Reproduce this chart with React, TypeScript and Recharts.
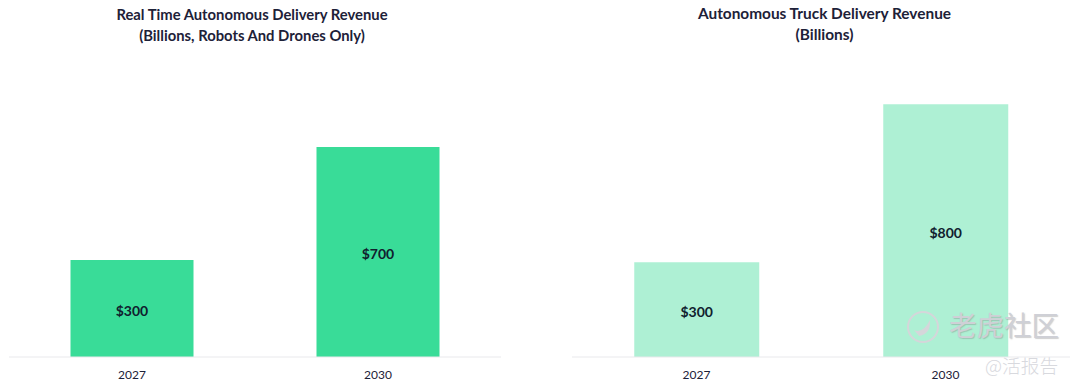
import React from "react";
import { BarChart, Bar, XAxis, YAxis, LabelList } from "recharts";

const categories = ["2027", "2030"];
const roboticsRevenue = [300, 700];
const truckRevenue = [300, 800];
const roboticsFloor = -43;
const roboticsTop = 1008;
const truckTop = 940;

const roboticsRows = categories.map((year, i) => ({
  year,
  value: roboticsRevenue[i],
  range: [roboticsFloor, roboticsRevenue[i]],
}));
const truckRows = categories.map((year, i) => ({
  year,
  value: truckRevenue[i],
  range: [0, truckRevenue[i]],
}));

const FONT = "Lato, 'Open Sans', sans-serif";
const INK = "#1d2138";

function Title({ cx, top, size, lines }: { cx: number; top: number; size: number; lines: string[] }) {
  return (
    <div
      style={{
        position: "absolute",
        left: cx - 200,
        top,
        width: 400,
        textAlign: "center",
        fontFamily: FONT,
        fontWeight: 700,
        fontSize: size,
        lineHeight: "21px",
        color: INK,
        whiteSpace: "nowrap",
      }}
    >
      {lines.map((l) => (
        <div key={l}>{l}</div>
      ))}
    </div>
  );
}

function Panel({
  rows,
  color,
  left,
  width,
  domain,
}: {
  rows: { year: string; value: number; range: number[] }[];
  color: string;
  left: number;
  width: number;
  domain: number[];
}) {
  return (
    <div style={{ position: "absolute", left, top: 0 }}>
      <BarChart
        width={width}
        height={389}
        data={rows}
        margin={{ top: 60, right: 0, bottom: 0, left: 0 }}
        barCategoryGap="25%"
      >
        <XAxis
          dataKey="year"
          height={32}
          axisLine={{ stroke: "#e9e9ec", strokeWidth: 1 }}
          tickLine={false}
          tick={{ fill: INK, fontSize: 12, fontFamily: FONT }}
          tickMargin={7}
        />
        <YAxis hide domain={domain} allowDataOverflow type="number" />
        <Bar dataKey="range" fill={color} isAnimationActive={false}>
          <LabelList
            dataKey="value"
            position="center"
            dy={2.5}
            formatter={(v: number) => `$${v}`}
            style={{ fill: "#10202e", fontSize: 14, fontWeight: 700, fontFamily: FONT }}
          />
        </Bar>
      </BarChart>
    </div>
  );
}

export default function App() {
  return (
    <div style={{ position: "absolute", left: 0, top: 0, width: 1080, height: 389, overflow: "hidden", background: "#fff" }}>
      <Title cx={252} top={4} size={14.8} lines={["Real Time Autonomous Delivery Revenue", "(Billions, Robots And Drones Only)"]} />
      <Title cx={824.5} top={3} size={15.4} lines={["Autonomous Truck Delivery Revenue", "(Billions)"]} />
      <Panel rows={roboticsRows} color="#39DC98" left={9} width={492} domain={[roboticsFloor, roboticsTop]} />
      <Panel rows={truckRows} color="#AEF0D4" left={572} width={498} domain={[0, truckTop]} />
      <svg style={{ position: "absolute", left: 905, top: 310 }} width={36} height={36}>
        <circle cx={18} cy={17} r={15} fill="none" stroke="#d5d6da" strokeWidth={2} />
        <path d="M9 20 Q18 24 25 10 Q26 24 14 26 Z" fill="#d5d6da" />
      </svg>
      <div
        style={{
          position: "absolute",
          left: 949,
          top: 307,
          fontFamily: "'Noto Sans CJK SC'",
          fontSize: 27.5,
          lineHeight: "34px",
          color: "#cfd0d6",
          textShadow: "1px 1px 1px rgba(120,120,120,0.35)",
          whiteSpace: "nowrap",
        }}
      >
        老虎社区
      </div>
      <div
        style={{
          position: "absolute",
          left: 985,
          top: 353,
          fontFamily: "'Noto Sans CJK SC'",
          fontSize: 18.7,
          fontWeight: 300,
          lineHeight: "24px",
          color: "#d8d9de",
          whiteSpace: "nowrap",
        }}
      >
        @活报告
      </div>
    </div>
  );
}
